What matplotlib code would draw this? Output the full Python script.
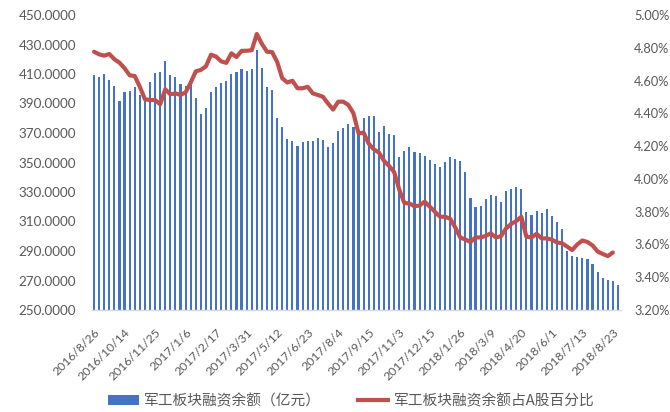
import numpy as np
import matplotlib
matplotlib.use("Agg")
import matplotlib.pyplot as plt
from matplotlib.patches import Patch
from matplotlib.lines import Line2D

# 軸ラベル（6本ごと）
tickLabels = ["2016/8/26", "2016/10/14", "2016/11/25", "2017/1/6", "2017/2/17", "2017/3/31",
              "2017/5/12", "2017/6/23", "2017/8/4", "2017/9/15", "2017/11/3", "2017/12/15",
              "2018/1/26", "2018/3/9", "2018/4/20", "2018/6/1", "2018/7/13", "2018/8/23"]
tickStep = 6

# 軍工板块融资余额（亿元）
balance = [409.3, 407.8, 409.8, 405.7, 402.1, 391.5, 398.0, 398.7, 401.0, 396.0,
           394.0, 404.5, 410.4, 411.3, 418.5, 409.2, 408.1, 403.2, 402.0, 402.3,
           393.8, 382.6, 386.7, 397.6, 401.4, 403.7, 405.3, 409.8, 411.2, 413.7,
           411.9, 413.2, 426.2, 413.9, 401.0, 399.2, 380.1, 374.4, 365.7, 364.4,
           361.2, 363.7, 364.9, 364.9, 366.3, 365.0, 360.3, 363.0, 371.2, 373.1,
           375.9, 374.4, 372.0, 380.0, 381.3, 381.3, 371.0, 375.0, 369.5, 368.5,
           353.5, 357.8, 360.5, 357.3, 356.6, 354.4, 351.7, 348.8, 347.2, 350.3,
           353.7, 352.4, 351.3, 343.4, 326.0, 319.7, 320.5, 325.3, 328.0, 327.5,
           323.4, 330.5, 331.8, 333.4, 331.8, 316.4, 314.4, 317.3, 316.0, 318.2,
           313.7, 309.7, 304.9, 290.2, 286.9, 285.7, 285.3, 284.4, 281.4, 276.0,
           271.5, 270.3, 269.9, 266.9]

# 占A股百分比（%）
share = [4.776, 4.760, 4.752, 4.762, 4.730, 4.709, 4.675, 4.632, 4.628, 4.562,
         4.486, 4.481, 4.481, 4.455, 4.547, 4.516, 4.522, 4.512, 4.528, 4.587,
         4.656, 4.665, 4.687, 4.758, 4.746, 4.717, 4.708, 4.766, 4.744, 4.781,
         4.782, 4.785, 4.884, 4.824, 4.776, 4.774, 4.714, 4.614, 4.588, 4.599,
         4.553, 4.553, 4.562, 4.522, 4.512, 4.501, 4.460, 4.423, 4.471, 4.471,
         4.451, 4.400, 4.278, 4.282, 4.215, 4.180, 4.161, 4.110, 4.079, 4.042,
         3.935, 3.853, 3.850, 3.833, 3.838, 3.861, 3.831, 3.800, 3.769, 3.769,
         3.757, 3.705, 3.642, 3.630, 3.615, 3.643, 3.643, 3.652, 3.668, 3.643,
         3.650, 3.698, 3.725, 3.743, 3.769, 3.647, 3.643, 3.665, 3.637, 3.637,
         3.630, 3.612, 3.607, 3.587, 3.566, 3.600, 3.624, 3.615, 3.594, 3.557,
         3.542, 3.529, 3.551, np.nan]

barName = "军工板块融资余额（亿元）"
lineName = "军工板块融资余额占A股百分比"

grey = "#595959"
blue = "#4472C4"
red = "#C0504D"

plt.rcParams['font.family'] = ['Lato', 'DejaVu Sans']

fig = plt.figure(figsize=(6.7, 4.12), dpi=100)
ax = fig.add_axes([91.5 / 670, 1 - 310 / 412, 529 / 670, 295 / 412])
ax2 = ax.twinx()

x = np.arange(len(balance))
ax.bar(x, balance, width=0.42, color=blue, zorder=2)
ax2.plot(x, share, color=red, lw=3.0, solid_capstyle='round', solid_joinstyle='round', zorder=3)

ax.set_xlim(-0.5, len(balance) - 0.5)
ax.set_ylim(250, 450)
ax.set_yticks(np.arange(250, 451, 20))
ax.set_yticklabels(["%.4f" % v for v in np.arange(250, 451, 20)])
ax2.set_ylim(3.2, 5.0)
ax2.set_yticks(np.arange(3.2, 5.01, 0.2))
ax2.set_yticklabels(["%.2f%%" % v for v in np.arange(3.2, 5.01, 0.2)])

ax.set_xticks(np.arange(0, len(balance), tickStep)[:len(tickLabels)])
ax.set_xticklabels(tickLabels, rotation=45, ha='right', rotation_mode='anchor', fontsize=8.8, color=grey)

for a in (ax, ax2):
    for s in a.spines.values():
        s.set_visible(False)
    a.tick_params(length=0, colors=grey)
ax.tick_params(axis='y', pad=11, labelsize=9.7)
ax2.tick_params(axis='y', pad=10, labelsize=9.2)
ax.tick_params(axis='x', pad=12, labelsize=8.8)
ax.spines['bottom'].set_visible(True)
ax.spines['bottom'].set_color("#D9D9D9")
ax.spines['bottom'].set_linewidth(1.0)
ax.set_zorder(ax2.get_zorder() - 1)
ax.patch.set_visible(False)

handles = [Patch(facecolor=blue, edgecolor='none'), Line2D([0], [0], color=red, lw=3)]
fig.legend(handles, [barName, lineName], loc='center', bbox_to_anchor=(351 / 670, 1 - 401 / 412),
           ncol=2, frameon=False, handlelength=2.1, handleheight=0.6, handletextpad=0.35,
           columnspacing=2.5, prop={'family': ['Noto Sans CJK SC', 'DejaVu Sans'], 'size': 10.6},
           labelcolor=grey)

fig.savefig("out.png", dpi=100)
